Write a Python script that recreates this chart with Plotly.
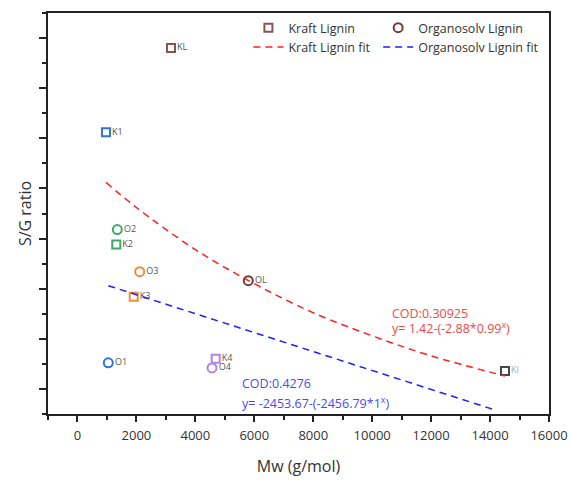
import plotly.graph_objects as go

# ---- data ----
kraft_labels = ["KL", "K1", "K2", "K3", "K4", "Kl"]
kraft_mw = [3174, 968, 1317, 1908, 4690, 14506]
kraft_sg = [3.90, 3.06, 1.94, 1.42, 0.80, 0.68]

organ_labels = ["OL", "O1", "O2", "O3", "O4"]
organ_mw = [5796, 1046, 1351, 2111, 4565]
organ_sg = [1.58, 0.76, 2.09, 1.67, 0.71]

kraft_fit_mw = [968, 2000, 4000, 6000, 8000, 10000, 12000, 14506]
kraft_fit_sg = [2.56, 2.31, 1.89, 1.55, 1.26, 1.03, 0.83, 0.63]

organ_fit_mw = [1046, 14065]
organ_fit_sg = [1.53, 0.30]

x_ticks = [0, 2000, 4000, 6000, 8000, 10000, 12000, 14000, 16000]
x_tick_text = [str(v) for v in x_ticks]

# ---- styles ----
kraft_colors = ["#8c5252", "#2f74e0", "#3aaa6a", "#f08a3c", "#b482e0", "#454545"]
organ_colors = ["#6e3d3d", "#2f74e0", "#3aaa6a", "#f08a3c", "#b482e0"]
kraft_text_colors = ["#555"] * 5 + ["#aaa"]
FONT = "Open Sans"

fig = go.Figure()

fig.add_trace(go.Scatter(
    x=kraft_mw, y=kraft_sg, mode="markers+text", name="Kraft Lignin",
    text=kraft_labels, textposition="middle right",
    textfont=dict(size=9, color=kraft_text_colors, family=FONT),
    marker=dict(symbol="square-open", size=8, color=kraft_colors,
                line=dict(width=2)),
    legend="legend",
))
fig.add_trace(go.Scatter(
    x=organ_mw, y=organ_sg, mode="markers+text", name="Organosolv Lignin",
    text=organ_labels, textposition="middle right",
    textfont=dict(size=9, color="#555", family=FONT),
    marker=dict(symbol="circle-open", size=9, color=organ_colors,
                line=dict(width=2)),
    legend="legend2",
))
fig.add_trace(go.Scatter(
    x=kraft_fit_mw, y=kraft_fit_sg, mode="lines", name="Kraft Lignin fit",
    line=dict(color="#ff2020", width=1.5, dash="7px,5px", shape="spline"),
    legend="legend",
))
fig.add_trace(go.Scatter(
    x=organ_fit_mw, y=organ_fit_sg, mode="lines", name="Organosolv Lignin fit",
    line=dict(color="#1f1fff", width=1.5, dash="7px,5px"),
    legend="legend2",
))

red = "#f0484a"
blue = "#4a4af0"
ann = [
    dict(x=10604, y=1.257, text="COD:0.30925", color=red),
    dict(x=10604, y=1.107, text="y= 1.42-(-2.88*0.99<sup>x</sup>)", color=red),
    dict(x=5515, y=0.557, text="COD:0.4276", color=blue),
    dict(x=5515, y=0.363, text="y= -2453.67-(-2456.79*1<sup>x</sup>)", color=blue),
]
for a in ann:
    fig.add_annotation(x=a["x"], y=a["y"], xref="x", yref="y", text=a["text"],
                       showarrow=False, xanchor="left", yanchor="middle",
                       font=dict(size=12.5, color=a["color"], family=FONT))

legend_common = dict(
    orientation="v", yanchor="top", xanchor="left", y=1.0,
    bgcolor="rgba(0,0,0,0)", borderwidth=0, itemsizing="trace",
    font=dict(size=12.5, color="#333", family=FONT), tracegroupgap=0,
)

fig.update_layout(
    width=572, height=480,
    margin=dict(l=48, r=23, t=13, b=66, autoexpand=False),
    plot_bgcolor="white", paper_bgcolor="white",
    font=dict(family=FONT, color="#333"),
    showlegend=True,
    legend=dict(x=0.40, **legend_common),
    legend2=dict(x=0.659, **legend_common),
    xaxis=dict(
        range=[-1000, 16000], tickvals=x_ticks, ticktext=x_tick_text,
        automargin=False, ticklabelstandoff=3,
        ticks="outside", ticklen=6, tickwidth=1.5, tickcolor="#222",
        minor=dict(dtick=1000, tick0=0, ticks="outside", ticklen=4,
                   tickwidth=1.5, tickcolor="#222"),
        showline=True, linecolor="#222", linewidth=1.5, mirror=True,
        showgrid=False, zeroline=False,
        tickfont=dict(size=13, color="#333", family=FONT),
        title=dict(text="Mw (g/mol)", font=dict(size=16, color="#333", family=FONT),
                   standoff=17),
    ),
    yaxis=dict(
        range=[0.25, 4.25], dtick=0.5, tick0=0,
        showticklabels=False, automargin=False,
        ticks="outside", ticklen=7, tickwidth=1.5, tickcolor="#222",
        minor=dict(dtick=0.5, tick0=0.25, ticks="outside", ticklen=4,
                   tickwidth=1.5, tickcolor="#222"),
        showline=True, linecolor="#222", linewidth=1.5, mirror=True,
        showgrid=False, zeroline=False,
        title=dict(text="S/G ratio", font=dict(size=16, color="#333", family=FONT),
                   standoff=4),
    ),
)

fig.write_html("out.html")
